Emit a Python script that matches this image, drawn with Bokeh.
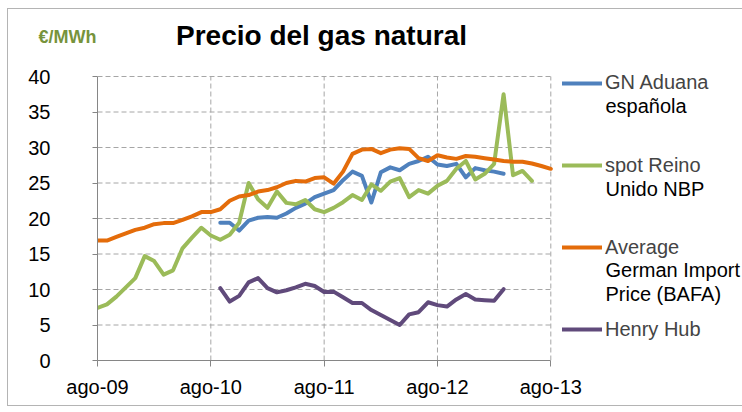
import pandas as pd
from bokeh.plotting import figure
from bokeh.layouts import column
from bokeh.models import FixedTicker, Legend, LegendItem, Label, ColumnDataSource
from bokeh.embed import file_html
from bokeh.resources import INLINE

# ---------------- data ----------------
axis_start = "2009-08"
tick_dates = ["2009-08", "2010-08", "2011-08", "2012-08", "2013-08"]
tick_labels = ["ago-09", "ago-10", "ago-11", "ago-12", "ago-13"]
y_ticks = [0, 5, 10, 15, 20, 25, 30, 35, 40]

bafa_start = "2009-08"
bafa = [16.9, 16.9, 17.4, 17.9, 18.4, 18.7, 19.2, 19.35, 19.35, 19.8, 20.3, 20.9,
        20.9, 21.3, 22.5, 23.1, 23.3, 23.8, 24.0, 24.4, 25.0, 25.3, 25.2, 25.7,
        25.8, 24.9, 26.6, 29.1, 29.7, 29.8, 29.2, 29.7, 29.9, 29.8, 28.5, 28.1,
        28.9, 28.6, 28.4, 28.8, 28.7, 28.5, 28.3, 28.1, 28.0, 28.0, 27.75, 27.4,
        27.0]

nbp_start = "2009-08"
nbp = [7.4, 7.9, 9.0, 10.3, 11.6, 14.7, 14.0, 12.1, 12.7, 15.8, 17.3, 18.7,
       17.6, 17.0, 17.7, 19.4, 25.0, 22.7, 21.5, 23.8, 22.2, 22.0, 22.6, 21.3,
       20.9, 21.5, 22.3, 23.3, 22.6, 24.8, 23.9, 25.2, 25.7, 23.0, 24.0, 23.5,
       24.6, 25.3, 27.0, 28.1, 25.5, 26.3, 27.7, 37.5, 26.1, 26.7, 25.3]

aduana_start = "2010-09"
aduana = [19.4, 19.4, 18.3, 19.7, 20.1, 20.2, 20.1, 20.7, 21.5, 22.1, 23.0,
          23.5, 24.0, 25.4, 26.6, 26.0, 22.25, 26.5, 27.2, 26.8, 27.7, 28.1,
          28.7, 27.6, 27.4, 27.7, 25.8, 27.1, 26.8, 26.6, 26.3]

hh_start = "2010-09"
henry_hub = [10.2, 8.3, 9.1, 11.0, 11.6, 10.2, 9.6, 9.9, 10.3, 10.8, 10.5,
             9.65, 9.7, 8.9, 8.1, 8.1, 7.1, 6.4, 5.7, 5.0, 6.5, 6.8, 8.2,
             7.8, 7.6, 8.6, 9.35, 8.6, 8.5, 8.4, 10.05]

series_names = [["GN Aduana", "española"], ["spot Reino", "Unido NBP"],
                ["Average", "German Import", "Price (BAFA)"], ["Henry Hub"]]
series_colors = ["#4F81BD", "#9BBB59", "#E46C0A", "#604A7B"]
title_text = "Precio del gas natural"
unit_text = "€/MWh"


def month_index(d):
    return (pd.Period(d, freq="M") - pd.Period(axis_start, freq="M")).n


def xs_for(start, vals):
    s = month_index(start)
    return list(range(s, s + len(vals)))


tick_pos = [month_index(d) for d in tick_dates]

FONT = "Liberation Sans"
W = 734

# ---------------- header (title + unit) ----------------
hdr = figure(width=W, height=49, output_backend="svg", toolbar_location=None,
             x_axis_type=None, y_axis_type=None, x_range=(0, 1), y_range=(0, 1),
             min_border=0, title=None)
hdr.frame_align = False
hdr.outline_line_color = None
hdr.add_layout(Label(x=313, y=22.8, x_units="screen", y_units="screen",
                     text=title_text, text_font=FONT, text_font_size="28px",
                     text_font_style="bold", text_align="center",
                     text_baseline="middle", text_color="#000000"))
hdr.add_layout(Label(x=30, y=22, x_units="screen", y_units="screen",
                     text=unit_text, text_font=FONT, text_font_size="18px",
                     text_font_style="bold", text_align="left",
                     text_baseline="middle", text_color="#77933C"))

# ---------------- main chart ----------------
PX_MONTH = 453.3 / 48.0
PX_UNIT = 7.1
frame_w = W - 89
frame_h = 347 - 45
p = figure(width=W, height=347, output_backend="svg", toolbar_location=None,
           x_range=(0, frame_w / PX_MONTH), y_range=(0, frame_h / PX_UNIT),
           min_border_left=89, min_border_right=0, min_border_top=0,
           min_border_bottom=45, title=None)
p.frame_align = False
p.outline_line_color = None
p.xgrid.visible = False
p.ygrid.visible = False

p.xaxis.ticker = FixedTicker(ticks=tick_pos)
p.xaxis.major_label_overrides = {t: l for t, l in zip(tick_pos, tick_labels)}
p.xaxis.bounds = (tick_pos[0], tick_pos[-1])
p.yaxis.ticker = FixedTicker(ticks=y_ticks)
p.yaxis.bounds = (y_ticks[0], y_ticks[-1])
for ax in (p.xaxis, p.yaxis):
    ax.axis_line_color = "#868686"
    ax.major_tick_line_color = "#868686"
    ax.minor_tick_line_color = None
    ax.major_tick_in = 0
    ax.major_label_text_font = FONT
    ax.major_label_text_font_size = "20px"
    ax.major_label_text_color = "#000000"
p.xaxis.major_tick_out = 6
p.xaxis.major_label_standoff = 9
p.yaxis.major_tick_out = 5
p.yaxis.major_label_standoff = 42

# gridlines limited to the data area
hy = y_ticks[1:]
p.segment(x0=[tick_pos[0]] * len(hy), x1=[tick_pos[-1]] * len(hy), y0=hy, y1=hy,
          line_color="#A6A6A6", line_dash="5 3", line_width=1)
vx = tick_pos[1:]
p.segment(x0=vx, x1=vx, y0=[y_ticks[0]] * len(vx), y1=[y_ticks[-1]] * len(vx),
          line_color="#A6A6A6", line_dash="5 3", line_width=1)

renderers = []
for start, vals, color in [(aduana_start, aduana, series_colors[0]),
                           (nbp_start, nbp, series_colors[1]),
                           (bafa_start, bafa, series_colors[2]),
                           (hh_start, henry_hub, series_colors[3])]:
    src = ColumnDataSource(dict(x=xs_for(start, vals), y=vals))
    r = p.line("x", "y", source=src, line_color=color, line_width=4,
               line_join="round", line_cap="round")
    renderers.append(r)

# legend entries (Excel-like, evenly spaced, text wrapped)
legend_bottom = [265.3, 183, 100.7, 18.7]
extra_centers = [[254.3], [172], [90.3, 67], []]
for lines, r, ly, extra in zip(series_names, renderers, legend_bottom, extra_centers):
    lg = Legend(items=[LegendItem(label=lines[0], renderers=[r])],
                location=(465, ly), border_line_color=None,
                background_fill_alpha=0, padding=0, margin=0, spacing=0,
                glyph_width=40, glyph_height=24, label_standoff=3,
                label_text_font=FONT, label_text_font_size="20px",
                label_height=24)
    p.add_layout(lg, "center")
    for txt, cy in zip(lines[1:], extra):
        p.add_layout(Label(x=508, y=cy, x_units="screen", y_units="screen",
                           text=txt, text_font=FONT, text_font_size="20px",
                           text_align="left", text_baseline="middle",
                           text_color="#000000"))

layout = column(hdr, p, spacing=0)
layout.styles = {"margin-left": "7px", "margin-top": "8px",
                 "border-left": "1px solid #b4b4b4",
                 "border-top": "1px solid #b4b4b4",
                 "border-bottom": "1px solid #b4b4b4"}

open("out.html", "w").write(file_html(layout, INLINE))
